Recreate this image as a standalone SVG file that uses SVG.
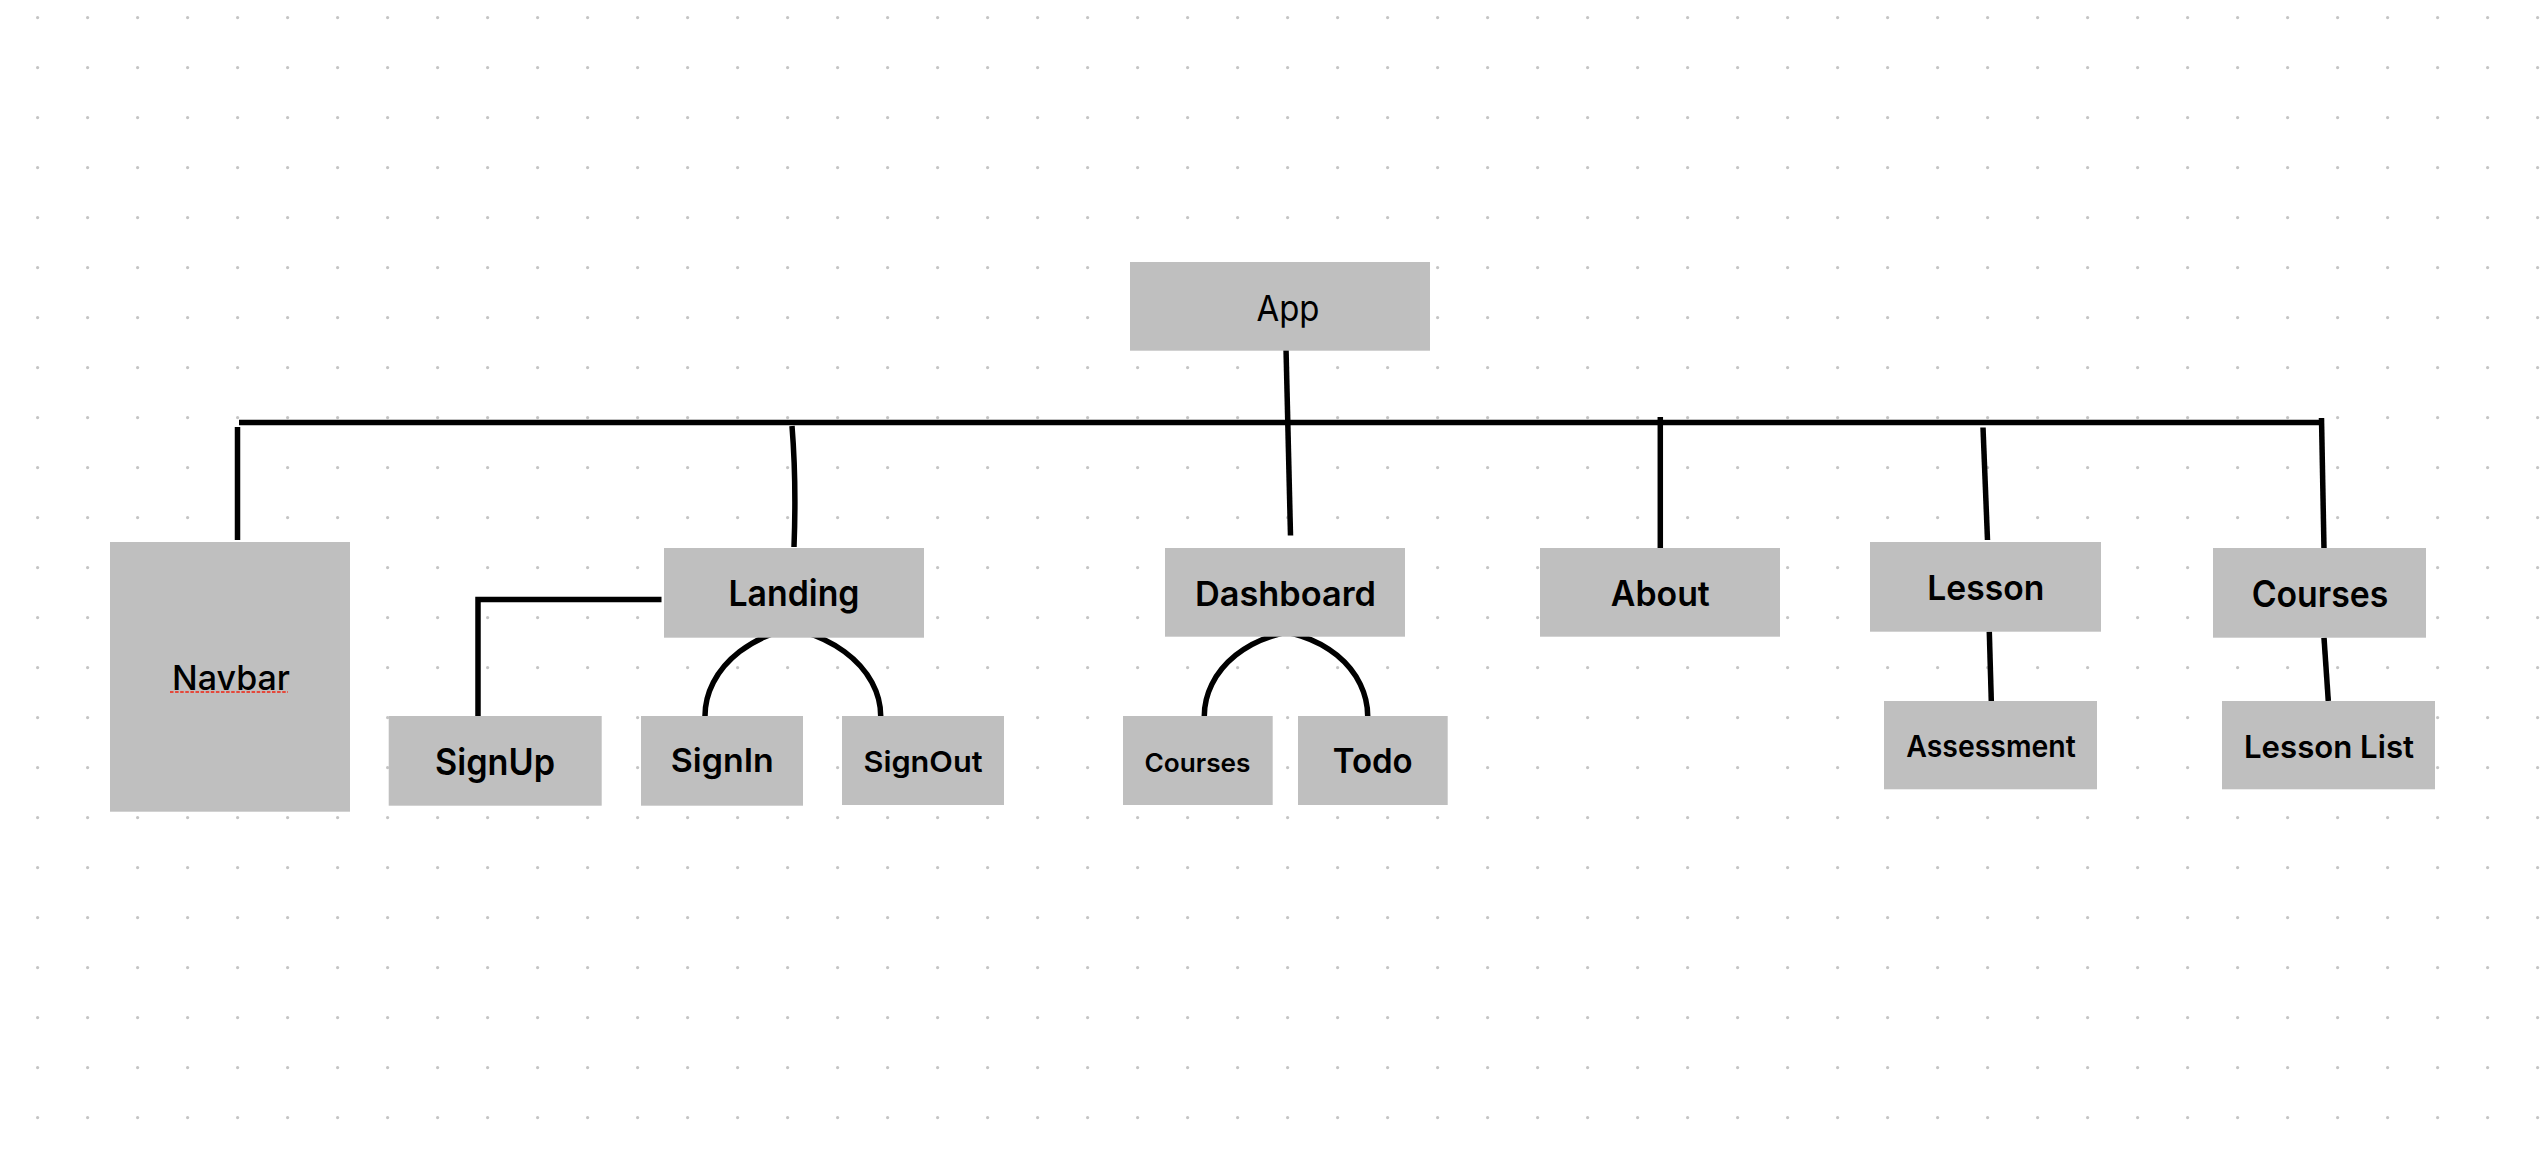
<svg xmlns="http://www.w3.org/2000/svg" width="2542" height="1164" viewBox="0 0 2542 1164">
<style>
.box{fill:#bfbfbf}
.t{font-family:Inter,"Liberation Sans",Arial,sans-serif;fill:#000;text-anchor:middle}
.b{font-weight:600}
.m{font-weight:500}
.r{font-weight:400}
.c{fill:none;stroke:#000;stroke-width:5.5;stroke-linecap:butt;stroke-linejoin:miter}
</style>
<defs>
<pattern id="dots" x="0" y="0" width="50" height="50" patternUnits="userSpaceOnUse">
<circle cx="37.6" cy="17.6" r="1.6" fill="#c4c4c4"/>
</pattern>
</defs>
<rect width="2542" height="1164" fill="#ffffff"/>
<rect width="2542" height="1164" fill="url(#dots)"/>

<g id="connectors">
<path class="c" d="M239 422.5H2321" stroke-width="6"/>
<path class="c" d="M237.5 427V540"/>
<path class="c" d="M792 426Q796.5 482 794 547"/>
<path class="c" d="M1286 348L1290.5 535.5"/>
<path class="c" d="M1660.3 417V550"/>
<path class="c" d="M1983 427.5L1987.5 540"/>
<path class="c" d="M2321.5 418L2324 549"/>
<path class="c" d="M661.5 599.5H478V716"/>
<path class="c" d="M823 625A118 91 0 0 0 705 716"/>
<path class="c" d="M756.7 625A124 91 0 0 1 880.7 716"/>
<path class="c" d="M1311.5 630A107.2 86 0 0 0 1204.3 716"/>
<path class="c" d="M1262.6 630A105.1 86 0 0 1 1367.7 716"/>
<path class="c" d="M1989.3 631.7L1991.3 701"/>
<path class="c" d="M2324 637.7L2328.3 701"/>
</g>

<g id="node-app"><rect class="box" x="1130" y="262" width="300" height="88.7"/><text class="t r" x="1288" y="320.5" font-size="35.5" textLength="63" lengthAdjust="spacingAndGlyphs">App</text></g>
<g id="node-navbar"><rect class="box" x="110" y="542" width="240" height="269.7"/><text class="t m" x="231" y="690" font-size="34.5" textLength="118" lengthAdjust="spacingAndGlyphs">Navbar</text><line x1="170" y1="692" x2="288" y2="692" stroke="#e5483a" stroke-width="2.2" stroke-dasharray="3.5 1.6"/></g>
<g id="node-landing"><rect class="box" x="664" y="548" width="260" height="89.7"/><text class="t b" x="794" y="606" font-size="35.8" textLength="131" lengthAdjust="spacingAndGlyphs">Landing</text></g>
<g id="node-signup"><rect class="box" x="388.7" y="716" width="213" height="89.7"/><text class="t b" x="495" y="775" font-size="36.5" textLength="120" lengthAdjust="spacingAndGlyphs">SignUp</text></g>
<g id="node-signin"><rect class="box" x="641" y="716" width="162" height="89.7"/><text class="t b" x="722.3" y="772.3" font-size="33" textLength="103" lengthAdjust="spacingAndGlyphs">SignIn</text></g>
<g id="node-signout"><rect class="box" x="842" y="716" width="162" height="89"/><text class="t b" x="923" y="771.7" font-size="29" textLength="119" lengthAdjust="spacingAndGlyphs">SignOut</text></g>
<g id="node-dashboard"><rect class="box" x="1165" y="548" width="240" height="88.7"/><text class="t b" x="1285.5" y="606" font-size="33.5" textLength="181" lengthAdjust="spacingAndGlyphs">Dashboard</text></g>
<g id="node-dash-courses"><rect class="box" x="1123" y="716" width="149.7" height="89"/><text class="t b" x="1197.5" y="771.7" font-size="25.2" textLength="106" lengthAdjust="spacingAndGlyphs">Courses</text></g>
<g id="node-todo"><rect class="box" x="1298" y="716" width="149.7" height="89"/><text class="t b" x="1372.7" y="772.7" font-size="33.5" textLength="80" lengthAdjust="spacingAndGlyphs">Todo</text></g>
<g id="node-about"><rect class="box" x="1540" y="548" width="240" height="88.7"/><text class="t b" x="1660.3" y="606" font-size="34.8" textLength="99" lengthAdjust="spacingAndGlyphs">About</text></g>
<g id="node-lesson"><rect class="box" x="1870" y="542" width="231" height="89.7"/><text class="t b" x="1985.8" y="600" font-size="34.4" textLength="117" lengthAdjust="spacingAndGlyphs">Lesson</text></g>
<g id="node-assessment"><rect class="box" x="1884" y="701" width="213" height="88.3"/><text class="t b" x="1991" y="756.7" font-size="29.8" textLength="169.4" lengthAdjust="spacingAndGlyphs">Assessment</text></g>
<g id="node-courses"><rect class="box" x="2213" y="548" width="213" height="89.7"/><text class="t b" x="2320" y="606.7" font-size="36.5" textLength="136.7" lengthAdjust="spacingAndGlyphs">Courses</text></g>
<g id="node-lessonlist"><rect class="box" x="2222" y="701" width="213" height="88.3"/><text class="t b" x="2329" y="757.7" font-size="31.2" textLength="170" lengthAdjust="spacingAndGlyphs">Lesson List</text></g>
</svg>
